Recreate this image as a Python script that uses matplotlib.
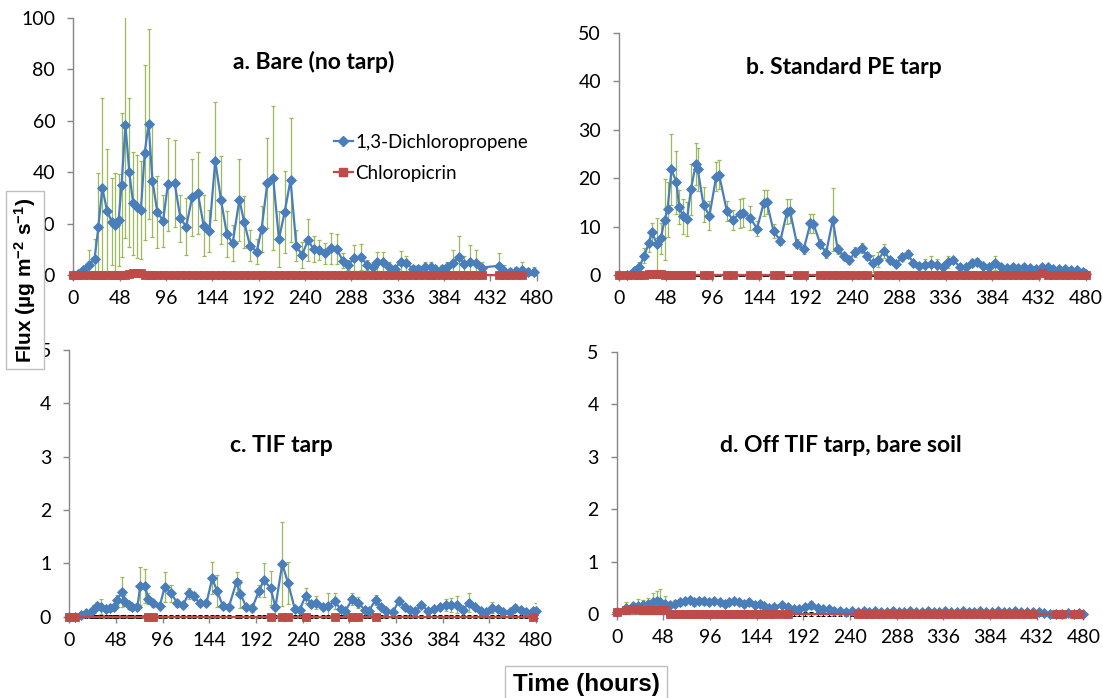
import matplotlib
matplotlib.use("Agg")
import matplotlib.pyplot as plt
from matplotlib.lines import Line2D
import numpy as np

plt.rcParams['font.family'] = ['Lato', 'DejaVu Sans']
plt.rcParams['mathtext.fontset'] = 'custom'
plt.rcParams['mathtext.rm'] = 'Liberation Sans:bold'
plt.rcParams['mathtext.bf'] = 'Liberation Sans:bold'
plt.rcParams['mathtext.default'] = 'bf'

# ---------------- data ----------------
x_ticks = [0, 48, 96, 144, 192, 240, 288, 336, 384, 432, 480]
series_names = ['1,3-Dichloropropene', 'Chloropicrin']
panel_titles = ['a. Bare (no tarp)', 'b. Standard PE tarp', 'c. TIF tarp',
                'd. Off TIF tarp, bare soil']
y_max = [100, 50, 5, 5]
y_step = [20, 10, 1, 1]

# panel a
a_hours = [0, 5, 10, 16, 22, 26, 30, 35, 40, 43,
           47, 50, 54, 58, 62, 66, 70, 74, 78, 82,
           87, 93, 98, 105, 111, 117, 123, 129, 135, 141,
           147, 153, 159, 165, 172, 177, 183, 190, 195, 201,
           207, 213, 219, 225, 231, 237, 243, 249, 255, 261,
           267, 273, 279, 285, 291, 298, 304, 310, 315, 321,
           327, 333, 339, 345, 352, 357, 364, 370, 375, 382,
           387, 393, 400, 405, 411, 417, 423, 441, 446, 452,
           459, 465, 471, 477]
a_dcp = [0, 0.3, 1.9, 3.9, 6.1, 18.8, 34.0, 24.9, 20.7, 19.5,
         21.4, 35.0, 58.4, 40.0, 27.9, 26.6, 25.3, 47.6, 58.8, 36.6,
         24.6, 21.0, 35.3, 35.7, 22.0, 18.8, 30.2, 32.0, 19.2, 17.1,
         44.5, 29.2, 16.0, 12.3, 29.2, 20.7, 11.4, 9.1, 17.8, 35.9,
         37.9, 14.0, 24.6, 37.0, 11.4, 7.7, 13.6, 10.0, 9.7, 8.4,
         10.4, 10.1, 5.6, 3.9, 6.7, 7.1, 3.9, 3.2, 5.2, 5.2,
         3.2, 2.3, 5.2, 4.5, 2.3, 2.3, 3.2, 3.2, 2.3, 2.3,
         3.2, 4.8, 7.1, 4.2, 5.2, 4.8, 2.9, 3.6, 1.7, 1.3,
         1.7, 1.9, 1.3, 1.2]
a_dcp_err = [0, 0.5, 1, 6, 8, 21, 35, 24, 17, 20,
             18, 28, 44, 29, 20, 20, 19, 34, 37, 22,
             14, 10, 18, 17, 9, 11, 15, 16, 12, 8,
             23, 17, 9, 7, 16, 10, 6, 5, 9, 17.5,
             28, 11, 16, 24, 6, 5, 8, 5, 4, 4,
             6, 6, 3, 2, 5, 5, 2, 2, 3.6, 3.6,
             2, 1.5, 4, 3, 1.5, 1.5, 2, 2, 1.5, 1.5,
             2, 5, 8, 3, 6.5, 5, 2, 5, 2, 1.5,
             1.5, 3, 1.5, 2]
a_cp_hours = [0, 5, 10, 16, 22, 26, 30, 35, 40, 43,
              47, 50, 54, 58, 62, 66, 70, 74, 78, 82,
              87, 93, 98, 105, 111, 117, 123, 129, 135, 141,
              147, 153, 159, 165, 172, 177, 183, 190, 195, 201,
              207, 213, 219, 225, 231, 237, 243, 249, 255, 261,
              267, 273, 279, 285, 291, 298, 304, 310, 315, 321,
              327, 333, 339, 345, 352, 357, 364, 370, 375, 382,
              387, 393, 400, 405, 411, 417, 423, 441, 446, 452,
              459, 465]
a_cp = [0, 0, 0, 0, 0, 0, 0, 0, 0, 0,
        0, 0, 0, 0.3, 0.6, 0.6, 0.6, 0, 0, 0,
        0, 0, 0, 0, 0, 0, 0, 0, 0, 0,
        0, 0, 0, 0, 0, 0, 0, 0, 0, 0,
        0, 0, 0, 0, 0, 0, 0, 0, 0, 0,
        0, 0, 0, 0, 0, 0, 0, 0, 0, 0,
        0, 0, 0, 0, 0, 0, 0, 0, 0, 0,
        0, 0, 0, 0, 0, 0, 0, 0, 0, 0,
        0, 0]
a_cp_unmarked = []

# panel b
b_hours = [0, 8, 15, 21, 26, 31, 34, 39, 43, 47,
           50, 54, 59, 62, 66, 70, 74, 79, 81, 87,
           93, 100, 103, 111, 117, 124, 128, 135, 142, 149,
           152, 159, 166, 173, 176, 183, 190, 197, 200, 207,
           213, 220, 225, 231, 237, 243, 250, 255, 261, 267,
           273, 279, 285, 291, 297, 303, 309, 315, 321, 327,
           333, 339, 344, 351, 357, 363, 368, 375, 381, 387,
           393, 399, 405, 411, 417, 423, 429, 435, 441, 447,
           453, 459, 465, 471, 477, 480]
b_dcp = [0, 0.1, 0.9, 1.7, 4.0, 6.7, 8.8, 6.4, 7.6, 11.4,
         13.6, 21.8, 19.2, 14.0, 12.1, 11.5, 17.7, 22.9, 21.8, 14.5,
         12.2, 20.3, 20.7, 13.2, 11.4, 12.7, 12.9, 11.8, 9.6, 14.9,
         15.1, 9.1, 7.1, 13.1, 13.2, 6.5, 5.3, 10.7, 10.6, 6.5,
         4.5, 11.4, 5.3, 3.9, 3.0, 4.8, 5.6, 3.9, 2.4, 3.2,
         5.0, 3.0, 2.3, 3.7, 4.3, 2.5, 1.9, 2.1, 2.3, 2.1,
         1.7, 2.7, 3.0, 1.7, 1.6, 2.5, 2.7, 1.9, 1.6, 2.5,
         1.6, 1.4, 1.6, 1.4, 1.7, 1.4, 1.2, 1.7, 1.6, 1.2,
         1.2, 1.2, 1.0, 1.0, 0.7, 0.3]
b_dcp_err = [0, 0.2, 0.5, 1.0, 1.5, 2.0, 2.0, 5.3, 3.2, 8.4,
             5.7, 7.3, 6.5, 3.5, 3.7, 3.5, 5.2, 4.4, 4.5, 3.6,
             3.0, 3.0, 3.0, 2.0, 2.0, 3.0, 3.0, 2.5, 1.5, 2.7,
             2.5, 1.5, 1.0, 2.5, 2.5, 1.0, 1.0, 2.0, 2.0, 1.0,
             1.0, 6.5, 1.0, 0.8, 0.8, 1.0, 1.0, 0.8, 1.7, 1.5,
             1.4, 0.8, 0.6, 0.8, 0.8, 0.6, 0.5, 1.3, 1.6, 1.2,
             0.5, 1.2, 0.5, 0.5, 0.5, 0.8, 0.8, 0.5, 0.5, 1.4,
             0.5, 0.4, 0.4, 0.4, 0.4, 0.4, 0.4, 0.4, 0.4, 0.4,
             0.4, 0.4, 0.4, 0.4, 0.4, 0.9]
b_cp_hours = b_hours
b_cp = [0, 0, 0, 0, 0, 0.3, 0.3, 0.3, 0.3, 0,
        0, 0, 0, 0, 0, 0, 0, 0, 0, 0,
        0, 0, 0, 0, 0, 0, 0, 0, 0, 0,
        0, 0, 0, 0, 0, 0, 0, 0, 0, 0,
        0, 0, 0, 0, 0, 0, 0, 0, 0, 0,
        0, 0, 0, 0, 0, 0, 0, 0, 0, 0,
        0, 0, 0, 0, 0, 0, 0, 0, 0, 0,
        0, 0, 0, 0, 0, 0, 0, 0.4, 0, 0,
        0, 0, 0, 0, 0, 0]
b_cp_unmarked = [79, 81, 100, 103, 124, 128, 149, 152, 173, 176, 197, 200, 261]

# panel c
c_hours = [0, 6, 12, 17, 22, 25, 29, 33, 38, 42,
           46, 49, 54, 56, 61, 65, 70, 73, 78, 81,
           86, 93, 98, 105, 111, 117, 123, 128, 134, 141,
           147, 152, 158, 164, 172, 176, 182, 188, 195, 200,
           207, 212, 219, 225, 232, 237, 243, 249, 254, 261,
           266, 273, 279, 284, 291, 297, 304, 308, 315, 321,
           326, 333, 339, 345, 350, 356, 362, 369, 375, 381,
           387, 393, 399, 405, 411, 417, 423, 429, 435, 441,
           446, 453, 458, 465, 470, 477, 480]
c_dcp = [0, 0, 0.03, 0.06, 0.08, 0.14, 0.20, 0.19, 0.14, 0.16,
         0.18, 0.31, 0.46, 0.30, 0.22, 0.18, 0.18, 0.58, 0.58, 0.34,
         0.25, 0.20, 0.55, 0.44, 0.25, 0.22, 0.44, 0.39, 0.25, 0.25,
         0.72, 0.48, 0.20, 0.18, 0.65, 0.43, 0.18, 0.16, 0.48, 0.68,
         0.54, 0.18, 0.99, 0.63, 0.14, 0.13, 0.39, 0.24, 0.26, 0.19,
         0.20, 0.29, 0.14, 0.11, 0.33, 0.26, 0.13, 0.11, 0.31, 0.18,
         0.11, 0.09, 0.30, 0.18, 0.13, 0.11, 0.22, 0.11, 0.14, 0.18,
         0.22, 0.22, 0.22, 0.13, 0.26, 0.18, 0.11, 0.08, 0.17, 0.14,
         0.08, 0.08, 0.16, 0.13, 0.08, 0.11, 0.10]
c_dcp_err = [0, 0.02, 0.02, 0.03, 0.05, 0.08, 0.08, 0.14, 0.05, 0.05,
             0.05, 0.10, 0.28, 0.10, 0.08, 0.05, 0.05, 0.36, 0.32, 0.10,
             0.06, 0.05, 0.28, 0.16, 0.06, 0.05, 0.10, 0.08, 0.05, 0.05,
             0.30, 0.30, 0.05, 0.05, 0.18, 0.26, 0.05, 0.08, 0.12, 0.32,
             0.32, 0.05, 0.79, 0.40, 0.05, 0.05, 0.14, 0.06, 0.12, 0.05,
             0.24, 0.15, 0.04, 0.04, 0.12, 0.10, 0.04, 0.04, 0.10, 0.04,
             0.03, 0.03, 0.06, 0.04, 0.03, 0.03, 0.06, 0.03, 0.03, 0.05,
             0.12, 0.13, 0.16, 0.04, 0.18, 0.06, 0.03, 0.03, 0.10, 0.04,
             0.03, 0.03, 0.06, 0.04, 0.03, 0.04, 0.15]
c_cp_hours = c_hours
c_cp = [0, 0, 0, 0, 0, 0, 0, 0, 0, 0,
        0, 0, 0, 0, 0, 0, 0, 0, 0, 0,
        0, 0, 0, 0, 0, 0, 0, 0, 0, 0,
        0, 0, 0, 0, 0, 0, 0, 0, 0, 0,
        0, 0, 0, 0, 0, 0, 0, 0, 0, 0,
        0, 0, 0, 0, 0, 0, 0, 0, 0, 0,
        0, 0, 0, 0, 0, 0, 0, 0, 0, 0,
        0, 0, 0, 0, 0, 0, 0, 0, 0, 0,
        0, 0, 0, 0, 0, 0, 0]
c_cp_marked = [0, 6, 81, 86, 207, 219, 225, 243, 273, 291, 297, 315, 477]

# panel d
d_hours = [0, 10, 17, 22, 27, 32, 37, 41, 45, 50,
           55, 60, 65, 70, 75, 80, 85, 90, 95, 100,
           106, 111, 116, 121, 126, 131, 136, 142, 147, 152,
           157, 162, 170, 176, 182, 188, 194, 200, 207, 212,
           218, 224, 230, 236, 242, 248, 254, 260, 266, 272,
           278, 284, 290, 296, 302, 308, 314, 320, 326, 332,
           338, 344, 350, 356, 362, 368, 374, 380, 386, 392,
           398, 404, 410, 416, 422, 428, 434, 440, 446, 452,
           458, 464, 470, 476, 480]
d_dcp = [0.03, 0.11, 0.16, 0.16, 0.18, 0.20, 0.23, 0.24, 0.23, 0.20,
         0.18, 0.20, 0.22, 0.24, 0.26, 0.23, 0.24, 0.24, 0.23, 0.24,
         0.22, 0.20, 0.22, 0.24, 0.23, 0.20, 0.22, 0.18, 0.20, 0.16,
         0.12, 0.14, 0.18, 0.14, 0.09, 0.10, 0.14, 0.17, 0.12, 0.09,
         0.10, 0.06, 0.06, 0.04, 0.06, 0.04, 0.05, 0.04, 0.05, 0.04,
         0.04, 0.05, 0.04, 0.04, 0.05, 0.04, 0.04, 0.05, 0.04, 0.04,
         0.05, 0.04, 0.04, 0.05, 0.04, 0.04, 0.05, 0.04, 0.04, 0.05,
         0.04, 0.04, 0.05, 0.04, 0.04, 0.04, 0.03, 0.01, 0.0, 0.0,
         0.0, 0.01, 0.0, 0.01, 0.0]
d_dcp_err = [0, 0.11, 0.05, 0.12, 0.08, 0.10, 0.17, 0.20, 0.24, 0.14,
             0.05, 0.07, 0.07, 0.06, 0.05, 0.07, 0.05, 0.06, 0.05, 0.05,
             0.05, 0.04, 0.05, 0.04, 0.04, 0.04, 0.04, 0.03, 0.03, 0.03,
             0.03, 0.03, 0.03, 0.03, 0.03, 0.03, 0.03, 0.07, 0.03, 0.02,
             0.02, 0.02, 0.02, 0.02, 0.02, 0.02, 0.02, 0.02, 0.02, 0.02,
             0.02, 0.02, 0.02, 0.02, 0.02, 0.02, 0.02, 0.02, 0.02, 0.02,
             0.02, 0.02, 0.02, 0.02, 0.02, 0.02, 0.02, 0.02, 0.02, 0.02,
             0.02, 0.02, 0.02, 0.02, 0.02, 0.02, 0.02, 0.02, 0.02, 0.02,
             0.02, 0.02, 0.02, 0.02, 0.02]
d_cp_hours = d_hours
d_cp = [0.03, 0.07, 0.10, 0.10, 0.08, 0.07, 0.08, 0.07, 0.07, 0.07,
        0, 0, 0, 0, 0, 0, 0, 0, 0, 0,
        0, 0, 0, 0, 0, 0, 0, 0, 0, 0,
        0, 0, 0, 0, 0, 0, 0, 0, 0, 0,
        0, 0, 0, 0, 0, 0, 0, 0, 0, 0,
        0, 0, 0, 0, 0, 0, 0, 0, 0, 0,
        0, 0, 0, 0, 0, 0, 0, 0, 0, 0,
        0, 0, 0, 0, 0, 0, 0, 0, 0, 0,
        0, 0, 0, 0, 0]
d_cp_unmarked = [182, 188, 194, 200, 207, 212, 218, 224, 230, 236, 242,
                 434, 440, 446, 464, 480]

# ---------------- style ----------------
BLUE = '#4A7EBB'
RED = '#BE4B48'
GREEN = '#9BBB59'
AXC = '#868686'
W, H = 1103, 698


def rect(x0, x1, ytop, ybot):
    return [x0 / W, 1 - ybot / H, (x1 - x0) / W, (ybot - ytop) / H]


fig = plt.figure(figsize=(W / 100, H / 100), dpi=100)
fig.patch.set_facecolor('white')

rects = [rect(73.3, 536.7, 18, 275), rect(619, 1085.5, 33, 275),
         rect(69.3, 536, 350, 616.7), rect(616.7, 1083.3, 352, 614)]
title_pos = [(314, 62), (844, 68), (281, 445), (841, 445)]

panels = [
    (a_hours, a_dcp, a_dcp_err, a_cp_hours, a_cp,
     [i for i, h in enumerate(a_cp_hours) if h not in a_cp_unmarked]),
    (b_hours, b_dcp, b_dcp_err, b_cp_hours, b_cp,
     [i for i, h in enumerate(b_cp_hours) if h not in b_cp_unmarked]),
    (c_hours, c_dcp, c_dcp_err, c_cp_hours, c_cp,
     [i for i, h in enumerate(c_cp_hours) if h in c_cp_marked]),
    (d_hours, d_dcp, d_dcp_err, d_cp_hours, d_cp,
     [i for i, h in enumerate(d_cp_hours) if h not in d_cp_unmarked]),
]

D_MS = 5.5
S_MS = 5.9

for k, (r, (th, dv, de, ch, cv, mk)) in enumerate(zip(rects, panels)):
    ax = fig.add_axes(r)
    ymax = y_max[k]
    ax.set_xlim(0, 480)
    ax.set_ylim(0, ymax)
    ax.set_xticks(x_ticks)
    ax.set_yticks(np.arange(0, ymax + y_step[k] / 2, y_step[k]))
    for s in ['top', 'right']:
        ax.spines[s].set_visible(False)
    for s in ['left', 'bottom']:
        ax.spines[s].set_color(AXC)
        ax.spines[s].set_linewidth(1.0)
    ax.tick_params(axis='both', direction='out', length=4, width=1,
                   color=AXC, labelsize=14, labelcolor='black')
    ax.tick_params(axis='y', pad=9)
    ax.tick_params(axis='x', pad=7)

    # green error bars of 1,3-D
    ax.errorbar(th, dv, yerr=de, fmt='none', ecolor=GREEN, elinewidth=0.9,
                capsize=1.6, capthick=0.9, zorder=2)
    # black tiny error bars of chloropicrin
    ax.errorbar(ch, cv, yerr=ymax * 0.006, fmt='none', ecolor='black',
                elinewidth=0.7, capsize=1.4, capthick=0.7, zorder=2.5,
                clip_on=False)
    ax.plot(th, dv, color=BLUE, lw=1.6, marker='D', ms=D_MS, mfc=BLUE,
            mec=BLUE, mew=0.6, zorder=3, clip_on=False)
    ax.plot(ch, cv, color=RED, lw=1.6, marker='s', ms=S_MS, mfc=RED,
            mec=RED, mew=0.6, markevery=mk, zorder=4, clip_on=False)

    tx, ty = title_pos[k]
    fig.text(tx / W, 1 - ty / H, panel_titles[k], ha='center', va='center',
             fontsize=16.5, fontweight='bold')

    if k == 0:
        handles = [Line2D([], [], color=BLUE, lw=1.6, marker='D', ms=D_MS,
                          mfc=BLUE, mec=BLUE),
                   Line2D([], [], color=RED, lw=1.6, marker='s', ms=S_MS,
                          mfc=RED, mec=RED)]
        ax.legend(handles, series_names, loc='upper left',
                  bbox_to_anchor=(334 / W, 1 - 134 / H),
                  bbox_transform=fig.transFigure, frameon=False,
                  fontsize=13.5, handlelength=1.0, handletextpad=0.15,
                  borderpad=0, borderaxespad=0, labelspacing=0.72)

fig.text(25 / W, 1 - 280 / H, r'Flux (µg m$^{-2}$ s$^{-1}$)', rotation=90,
         ha='center', va='center', fontsize=15, fontweight='bold',
         family='Liberation Sans', zorder=10,
         bbox=dict(boxstyle='square,pad=0.3', facecolor='white',
                   edgecolor='#BFBFBF', linewidth=1))
fig.text(586 / W, 1 - 685 / H, 'Time (hours)', ha='center', va='center',
         fontsize=17.5, fontweight='bold', family='Liberation Sans', zorder=10,
         bbox=dict(boxstyle='square,pad=0.3', facecolor='white',
                   edgecolor='#BFBFBF', linewidth=1))

fig.savefig('out.png', dpi=100, facecolor='white')
